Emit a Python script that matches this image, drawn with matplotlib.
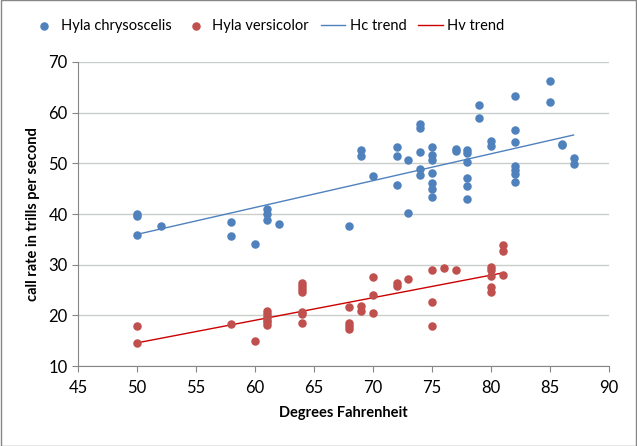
import matplotlib.pyplot as plt
import numpy as np

# data
hc_x = [50, 50, 50, 52, 58, 58, 60, 61, 61, 61, 62,
        68, 69, 69, 70, 72, 72, 72, 73, 73,
        74, 74, 74, 74, 74,
        75, 75, 75, 75, 75, 75, 75,
        77, 77, 78, 78, 78, 78, 78, 78,
        79, 79, 80, 80,
        82, 82, 82, 82, 82, 82, 82,
        85, 85, 86, 86, 87, 87]
hc_y = [39.6, 40.0, 35.9, 37.7, 38.4, 35.7, 34.1, 41.1, 40.0, 38.8, 38.1,
        37.7, 52.6, 51.4, 47.6, 53.3, 51.5, 45.8, 50.7, 40.3,
        57.8, 56.9, 52.2, 48.9, 47.8,
        53.3, 51.6, 50.7, 48.2, 46.1, 44.9, 43.4,
        52.5, 52.8, 52.7, 52.0, 50.3, 47.1, 45.5, 43.0,
        61.6, 58.9, 54.5, 53.5,
        63.2, 56.6, 54.2, 49.4, 48.7, 48.0, 46.3,
        66.2, 62.2, 53.6, 53.9, 51.1, 49.9]

hv_x = [50, 50, 58, 60, 61, 61, 61, 61, 61, 61,
        64, 64, 64, 64, 64, 64, 64,
        68, 68, 68, 68, 69, 69, 70, 70, 70,
        72, 72, 73, 75, 75, 75, 76, 77,
        80, 80, 80, 80, 80, 81, 81, 81]
hv_y = [17.9, 14.6, 18.3, 15.0, 20.8, 20.3, 19.7, 19.2, 18.7, 18.2,
        26.5, 25.9, 25.3, 24.6, 20.6, 20.2, 18.5,
        21.7, 18.6, 17.9, 17.3, 21.9, 20.9, 27.6, 24.1, 20.5,
        26.4, 25.9, 27.2, 29.0, 22.7, 17.9, 29.4, 29.0,
        29.5, 29.0, 27.7, 25.6, 24.7, 33.9, 32.7, 28.0]

# trend line values read at the ends of each range
hc_trend_x = [50, 87]
hc_trend_y = [36.0, 55.6]
hv_trend_x = [50, 81]
hv_trend_y = [14.6, 28.4]

x_ticks = [45, 50, 55, 60, 65, 70, 75, 80, 85, 90]
y_ticks = [10, 20, 30, 40, 50, 60, 70]


def main() -> None:
    plt.rcParams["font.family"] = ["Lato", "DejaVu Sans"]
    c_hc = "#4F81BD"
    c_hv = "#C0504D"
    c_hc_line = "#4F81BD"
    c_hv_line = "#CC0000"

    fig = plt.figure(figsize=(6.37, 4.46), dpi=100)
    ax = fig.add_axes([0.1226, 0.179, 0.8334, 0.682])

    ax.scatter(hc_x, hc_y, s=26, color=c_hc, zorder=3, label="Hyla chrysoscelis")
    ax.scatter(hv_x, hv_y, s=26, color=c_hv, zorder=3, label="Hyla versicolor")
    ax.plot(hc_trend_x, hc_trend_y, color=c_hc_line, linewidth=1.0, zorder=2, label="Hc trend")
    ax.plot(hv_trend_x, hv_trend_y, color=c_hv_line, linewidth=1.0, zorder=2, label="Hv trend")

    ax.set_xlim(45, 90)
    ax.set_ylim(10, 70)
    ax.set_xticks(x_ticks)
    ax.set_yticks(y_ticks)
    ax.yaxis.grid(True, color="#C8CFC8", linewidth=1.0)
    ax.set_axisbelow(True)
    for side in ["top", "right"]:
        ax.spines[side].set_visible(False)
    for side in ["left", "bottom"]:
        ax.spines[side].set_color("#868686")
    ax.tick_params(axis="both", direction="out", length=4, color="#868686",
                   labelsize=12, labelcolor="#000000")
    ax.tick_params(axis="x", pad=6)

    ax.set_xlabel("Degrees Fahrenheit", fontsize=10.5, fontweight="bold", labelpad=7)
    ax.set_ylabel("call rate in trills per second", fontsize=10.5, fontweight="bold", labelpad=6)

    ax.legend(loc="center", bbox_to_anchor=(0.421, 0.941), bbox_transform=fig.transFigure,
              ncol=4, frameon=False, fontsize=10.5, handlelength=1.7, handletextpad=0.3,
              columnspacing=0.8, borderaxespad=0, borderpad=0)

    fig.patches.append(plt.Rectangle((0.001, 0.001), 0.998, 0.998, transform=fig.transFigure,
                                     fill=False, edgecolor="#868686", linewidth=1.0))

    fig.savefig("out.png", dpi=100)
    plt.close(fig)


if __name__ == "__main__":
    main()
